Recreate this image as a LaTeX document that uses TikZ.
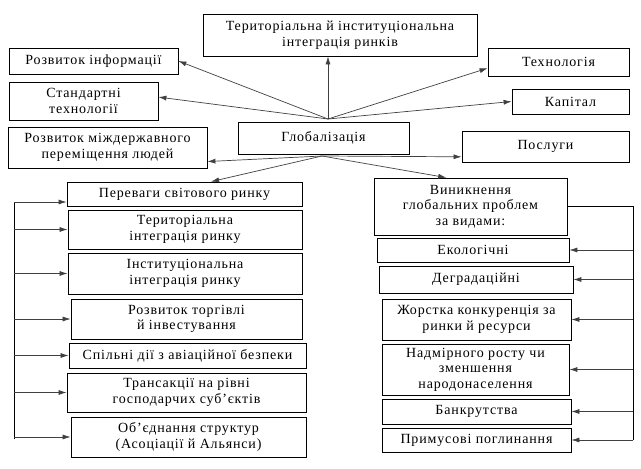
\documentclass[tikz,border=0pt]{standalone}
\usepackage{fontspec}
\setmainfont[LetterSpace=6]{Liberation Serif}
\usetikzlibrary{arrows.meta,calc}

\tikzset{blk/.style={draw=black,line width=0.8pt,align=center,inner sep=1pt,font=\fontsize{14}{15.5}\selectfont},
arr/.style={draw=black!75,line width=0.7pt,-{Latex[length=8pt,width=5pt]}},
bus/.style={draw=black,line width=0.8pt}}

\begin{document}
\begin{tikzpicture}[x=1pt,y=-1pt]
\useasboundingbox (0,0) rectangle (641,469);

% Top part
\node[blk,minimum width=274,minimum height=42] (terint) at (340,35) {Територіальна й інституціональна\\інтеграція ринків};
\node[blk,minimum width=169,minimum height=26] (info) at (93.5,61) {Розвиток інформації};
\node[blk,minimum width=149,minimum height=38] (stand) at (83.5,101) {Стандартні\\технології};
\node[blk,minimum width=199,minimum height=41] (people) at (107.5,147.5) {Розвиток міждержавного\\переміщення людей};
\node[blk,minimum width=171,minimum height=32] (glob) at (323.5,138) {Глобалізація};
\node[blk,minimum width=141,minimum height=28] (tech) at (558.5,62) {Технологія};
\node[blk,minimum width=117,minimum height=25] (cap) at (570.5,101.5) {Капітал};
\node[blk,minimum width=167,minimum height=31] (serv) at (545.5,146.5) {Послуги};

% Left column
\node[blk,minimum width=235,minimum height=24] (adv) at (184.5,194) {Переваги світового ринку};
\node[blk,minimum width=234,minimum height=39] (terr) at (185,229.5) {Територіальна\\інтеграція ринку};
\node[blk,minimum width=234,minimum height=41] (inst) at (185,273.5) {Інституціональна\\інтеграція ринку};
\node[blk,minimum width=231,minimum height=40] (trade) at (186.5,319) {Розвиток торгівлі\\й інвестування};
\node[blk,minimum width=237,minimum height=25] (avia) at (187.5,355.5) {Спільні дії з авіаційної безпеки};
\node[blk,minimum width=239,minimum height=39] (trans) at (186.5,392.5) {Трансакції на рівні\\господарчих суб'єктів};
\node[blk,minimum width=235,minimum height=40] (union) at (188.5,437) {Об'єднання структур\\(Асоціації й Альянси)};

% Right column
\node[blk,minimum width=193,minimum height=57] (emerg) at (470.5,206.5) {Виникнення\\глобальних проблем\\за видами:};
\node[blk,minimum width=192,minimum height=24] (eco) at (473,250) {Екологічні};
\node[blk,minimum width=194,minimum height=27] (degr) at (476,279.5) {Деградаційні};
\node[blk,minimum width=189,minimum height=41] (comp) at (476.5,319.5) {Жорстка конкуренція за\\ринки й ресурси};
\node[blk,minimum width=187,minimum height=51] (pop) at (475.5,369.5) {Надмірного росту чи\\зменшення\\народонаселення};
\node[blk,minimum width=189,minimum height=25] (bank) at (476.5,411.5) {Банкрутства};
\node[blk,minimum width=189,minimum height=24] (absorb) at (476.5,440) {Примусові поглинання};

% Hubs
\coordinate (hubup) at (328,119);
\coordinate (hubdown) at (322,156);
\draw[arr] (hubup) -- (hubup |- terint.south);
\draw[arr] (hubup) -- (info.east);
\draw[arr] (hubup) -- (stand.3);
\draw[arr] (hubup) -- (tech.185);
\draw[arr] (hubup) -- (cap.west);
\draw[arr] (hubdown) -- (people.352);
\draw[arr] (hubdown) -- (adv.25);
\draw[arr] (hubdown) -- (serv.187);
\draw[arr] (hubdown) -- (emerg.130);

% Left bus
\coordinate (ltop) at (14,202);
\coordinate (lbot) at (14,439);
\draw[bus] (lbot) -- (ltop);
\draw[arr] (ltop) -- (ltop -| adv.west);
\foreach \n in {terr,inst,trade,avia,trans,union} \draw[arr] (ltop |- \n.west) -- (\n.west);

% Right bus
\coordinate (rtop) at (633,207);
\coordinate (rbot) at (633,440);
\draw[bus] (emerg.east) -- (emerg.east -| rtop) -- (rbot);
\foreach \n in {eco,degr,comp,pop,bank,absorb} \draw[arr] (rtop |- \n.east) -- (\n.east);

\end{tikzpicture}
\end{document}
